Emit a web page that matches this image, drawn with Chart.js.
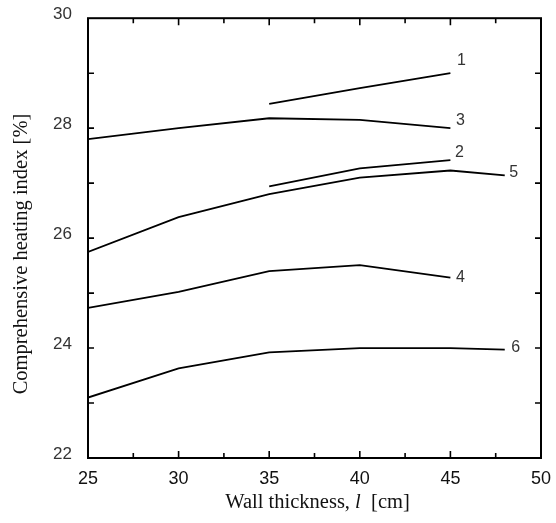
<!DOCTYPE html>
<html>
<head>
<meta charset="utf-8">
<script src="https://cdn.jsdelivr.net/npm/chart.js@4"></script>
<style>
  body { margin: 0; background: #fff; }
  canvas { display: block; }
</style>
</head>
<body>
<canvas id="chart" width="556" height="523"></canvas>
<script>
// wall thickness (cm) sampled for each case
var x1 = [35, 40, 45];
var x2 = [35, 40, 45];
var x3 = [25, 30, 35, 40, 45];
var x4 = [25, 30, 35, 40, 45];
var x5 = [25, 30, 35, 40, 45, 48];
var x6 = [25, 30, 35, 40, 45, 48];

// comprehensive heating index (%)
var y1 = [28.44, 28.73, 29.0];
var y2 = [26.94, 27.27, 27.42];
var y3 = [27.8, 28.0, 28.18, 28.15, 28.0];
var y4 = [24.73, 25.02, 25.4, 25.51, 25.28];
var y5 = [25.75, 26.38, 26.8, 27.1, 27.23, 27.14];
var y6 = [23.1, 23.63, 23.92, 24.0, 24.0, 23.97];

var caseNames = ["1", "2", "3", "4", "5", "6"];
var xTicks = [25, 30, 35, 40, 45, 50];
var yTicks = [22, 24, 26, 28, 30];

// label offsets from the last point of each curve, px
var nameOffsets = [[11, -13], [9, -7], [10, -8], [10, 0], [9, -3], [11, -2]];

function pts(xs, ys) {
  var out = [];
  for (var i = 0; i < xs.length; i++) out.push({ x: xs[i], y: ys[i] });
  return out;
}

var series = [pts(x1, y1), pts(x2, y2), pts(x3, y3), pts(x4, y4), pts(x5, y5), pts(x6, y6)];

var frame = {
  id: "frame",
  afterDraw: function (chart) {
    var c = chart.ctx, a = chart.chartArea;
    var sx = chart.scales.x, sy = chart.scales.y;
    c.save();
    c.strokeStyle = "#000";
    c.lineWidth = 2;
    c.strokeRect(a.left, a.top, a.right - a.left, a.bottom - a.top);

    // inward ticks on all four sides
    c.lineWidth = 1.6;
    c.beginPath();
    for (var v = sx.min + 2.5; v < sx.max; v += 2.5) {
      var px = sx.getPixelForValue(v);
      var len = v % 5 === 0 ? 7 : 5;
      c.moveTo(px, a.bottom); c.lineTo(px, a.bottom - len);
      c.moveTo(px, a.top); c.lineTo(px, a.top + len);
    }
    for (var w = sy.min + 1; w < sy.max; w += 1) {
      var py = sy.getPixelForValue(w);
      c.moveTo(a.left, py); c.lineTo(a.left + 6, py);
      c.moveTo(a.right, py); c.lineTo(a.right - 6, py);
    }
    c.stroke();

    // curve numbers
    c.fillStyle = "#333";
    c.font = "300 16px 'Liberation Sans', Arial, sans-serif";
    c.textAlign = "center";
    c.textBaseline = "middle";
    chart.data.datasets.forEach(function (ds, i) {
      var last = ds.data[ds.data.length - 1];
      var px = sx.getPixelForValue(last.x) + nameOffsets[i][0];
      var py = sy.getPixelForValue(last.y) + nameOffsets[i][1];
      c.fillText(caseNames[i], px, py);
    });

    // axis titles
    c.fillStyle = "#111";
    var serif = "'Liberation Serif', 'Times New Roman', serif";
    var fs = "20.5px ";
    c.font = fs + serif;
    var p1 = "Wall thickness, ", p2 = "l", p3 = "  [cm]";
    var w1 = c.measureText(p1).width, w3 = c.measureText(p3).width;
    c.font = "italic " + fs + serif;
    var w2 = c.measureText(p2).width;
    var x0 = (a.left + a.right) / 2 + 3 - (w1 + w2 + w3) / 2;
    c.textAlign = "left";
    c.font = fs + serif;
    c.fillText(p1, x0, 503);
    c.font = "italic " + fs + serif;
    c.fillText(p2, x0 + w1, 503);
    c.font = fs + serif;
    c.fillText(p3, x0 + w1 + w2, 503);

    c.translate(22, 254);
    c.rotate(-Math.PI / 2);
    c.textAlign = "center";
    c.fillText("Comprehensive heating index [%]", 0, 0);
    c.restore();
  }
};

new Chart(document.getElementById("chart"), {
  type: "line",
  data: {
    datasets: series.map(function (d, i) {
      return {
        label: caseNames[i],
        data: d,
        borderColor: "#000",
        borderWidth: 1.8,
        pointRadius: 0,
        tension: 0,
        fill: false
      };
    })
  },
  options: {
    responsive: false,
    animation: false,
    layout: { padding: { top: 16, right: 15, left: 0, bottom: 0 } },
    plugins: { legend: { display: false }, tooltip: { enabled: false } },
    scales: {
      x: {
        type: "linear",
        min: xTicks[0],
        max: xTicks[xTicks.length - 1],
        afterBuildTicks: function (s) { s.ticks = xTicks.map(function (v) { return { value: v }; }); },
        afterFit: function (s) { s.height = 65; },
        grid: { display: false },
        border: { display: false },
        ticks: { color: "#111", padding: 2, font: { family: "'Liberation Sans', Arial, sans-serif", size: 18 } }
      },
      y: {
        type: "linear",
        min: yTicks[0],
        max: yTicks[yTicks.length - 1],
        afterBuildTicks: function (s) { s.ticks = yTicks.map(function (v) { return { value: v }; }); },
        afterFit: function (s) { s.width = 88; },
        grid: { display: false },
        border: { display: false },
        ticks: { color: "#333", padding: 8, labelOffset: -4, font: { family: "'Liberation Sans', Arial, sans-serif", size: 17, weight: "300" } }
      }
    }
  },
  plugins: [frame]
});
</script>
</body>
</html>
